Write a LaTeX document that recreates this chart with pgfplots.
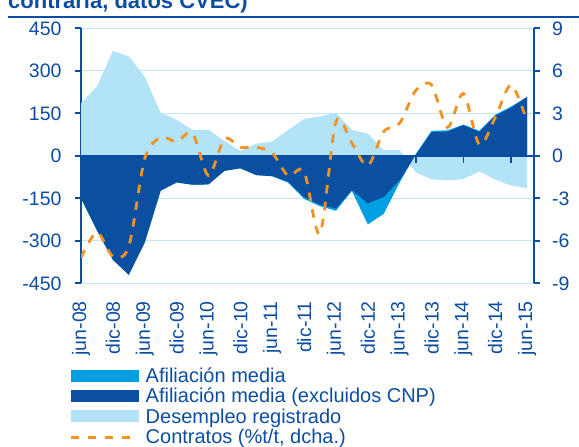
\documentclass[border=0pt]{standalone}
\usepackage{fontspec}
\setmainfont{Liberation Sans}
\usepackage{pgfplots}
\usepackage{pgfplotstable}
\pgfplotsset{compat=1.18}

\definecolor{txtblue}{HTML}{0C4DA2}
\definecolor{darkarea}{HTML}{0B50A0}
\definecolor{cyanarea}{HTML}{009EE2}
\definecolor{lightarea}{HTML}{B3E3F6}
\definecolor{gridblue}{HTML}{C6E7F6}
\definecolor{orangeline}{HTML}{F39223}

\pgfplotsset{
  swatch/.style={legend image code/.code={\fill[##1, draw=none] (0pt,-4pt) rectangle (68pt,7.7pt);}},
  dashimg/.style={legend image code/.code={\draw[##1] (0pt,0.6pt) -- (62pt,0.6pt);}},
}

% quarters: 0 = jun-08 ... 28 = jun-15
\pgfplotstableread{
i  desemp afil afilx contr
0   185  -150 -150 -7.2
1   245  -263 -263 -5.4
2   370  -367 -367 -7.1
3   351  -420 -420 -6.4
4   279  -306 -306 -0.2
5   152  -123 -123  1.3
6   127   -94  -94  1.0
7    91  -102 -102  1.6
8    92  -101 -101 -1.4
9    52   -53  -53  1.2
10   17   -44  -44  0.6
11   43   -68  -68  0.6
12   50   -72  -72  0.2
13   91   -95  -91 -1.4
14  130  -152 -146 -1.1
15  139  -178 -173 -5.5
16  152  -194 -186  2.4
17   91  -124 -121  0.9
18   79  -242 -168 -0.7
19   20  -205 -145  1.7
20   20   -94  -86  2.3
21  -58     5    3  4.6
22  -83    88   83  5.0
23  -87    90   85  2.0
24  -82   110  108  4.4
25  -55    88   85  0.8
26  -84   145  141  2.7
27 -105   174  170  5.0
28 -115   208  208  2.4
}\datatable

\begin{document}
\begin{tikzpicture}[x=1pt,y=1pt]
\node[anchor=base west, inner sep=0pt, text=txtblue,
  font=\fontsize{22}{26}\selectfont\bfseries] at (8,-9) {contraria, datos CVEC)};
\draw[txtblue, line width=2.2pt] (8,-16.6) -- (579,-16.6);

\begin{axis}[
  at={(81pt,-283.3pt)}, anchor=south west,
  scale only axis, width=453.3pt, height=255pt,
  xmin=0, xmax=28.45,
  ymin=-450, ymax=450,
  ytick={-450,-300,...,450},
  xtick={0,2,...,28},
  xticklabels={jun-08,dic-08,jun-09,dic-09,jun-10,dic-10,jun-11,dic-11,jun-12,dic-12,jun-13,dic-13,jun-14,dic-14,jun-15},
  axis y line*=left,
  axis x line*=bottom,
  x axis line style={draw=none},
  y axis line style={txtblue, line width=1.8pt, -},
  xtick style={draw=none},
  ytick style={txtblue, line width=1.8pt},
  tick align=outside,
  major tick length=6pt,
  ymajorgrids,
  major grid style={gridblue, line width=1.2pt},
  /pgf/number format/assume math mode=true,
  tick label style={font=\fontsize{19.5}{22}\selectfont, text=txtblue},
  yticklabel style={inner sep=0pt},
  yticklabel shift=13.3pt,
  xticklabel style={rotate=90, anchor=east, inner sep=0pt},
  xticklabel shift=11.7pt,
]
\addplot[fill=lightarea, draw=none] table[x=i, y=desemp]{\datatable} \closedcycle;
\addplot[fill=cyanarea, draw=none] table[x=i, y=afil]{\datatable} \closedcycle;
\addplot[fill=darkarea, draw=none] table[x=i, y=afilx]{\datatable} \closedcycle;
\draw[txtblue, line width=2pt] (axis cs:0,0) -- (axis cs:28.45,0);
\pgfplotsinvokeforeach{0,3,...,27}{
  \draw[txtblue, line width=1.8pt] (axis cs:#1,0) -- ++(0pt,-6.7pt);
}
\end{axis}

\begin{axis}[
  at={(81pt,-283.3pt)}, anchor=south west,
  scale only axis, width=453.3pt, height=255pt,
  xmin=0, xmax=28.45,
  ymin=-9, ymax=9,
  ytick={-9,-6,...,9},
  xtick=\empty,
  axis y line*=right,
  axis x line=none,
  y axis line style={txtblue, line width=1.8pt, -},
  ytick style={txtblue, line width=1.8pt},
  tick align=outside,
  major tick length=6pt,
  /pgf/number format/assume math mode=true,
  tick label style={font=\fontsize{19.5}{22}\selectfont, text=txtblue},
  yticklabel style={inner sep=0pt},
  yticklabel shift=11.7pt,
  legend cell align=left,
  legend style={
    at={(axis description cs:-0.0258,-0.333)}, anchor=north west,
    draw=none, fill=none, inner sep=0pt, outer sep=0pt,
    row sep=1.2pt,
    font=\fontsize{20}{24}\selectfont,
    nodes={inner sep=0pt, text height=14.5pt, text depth=4.5pt, text=txtblue},
    /tikz/every odd column/.append style={column sep=7pt},
  },
]
\addlegendimage{swatch, fill=cyanarea, draw=none}
\addlegendentry{Afiliación media}
\addlegendimage{swatch, fill=darkarea, draw=none}
\addlegendentry{Afiliación media (excluidos CNP)}
\addlegendimage{swatch, fill=lightarea, draw=none}
\addlegendentry{Desempleo registrado}
\addplot[orangeline, line width=2.8pt, dash pattern=on 8.5pt off 8.5pt, smooth, dashimg]
  table[x=i, y=contr]{\datatable};
\addlegendentry{Contratos (\%t/t, dcha.)}
\end{axis}

\pgfresetboundingbox
\useasboundingbox (0,0) rectangle (579,-447);
\end{tikzpicture}
\end{document}
